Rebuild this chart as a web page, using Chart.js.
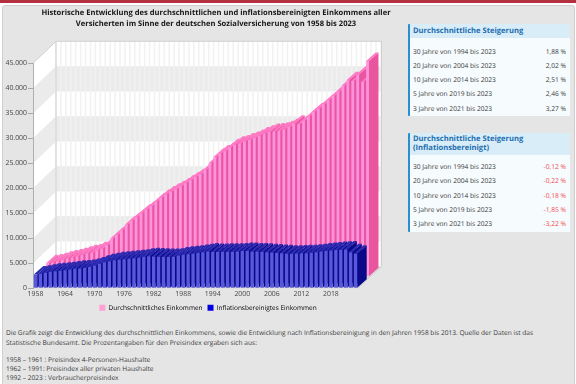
<!DOCTYPE html>
<html lang="de">
<head>
<meta charset="utf-8">
<title>Einkommen 1958 bis 2023</title>
<script src="https://cdn.jsdelivr.net/npm/chart.js@4"></script>
<style>
	html, body { margin: 0; padding: 0; background: #fff; }
	body { width: 576px; height: 384px; position: relative; overflow: hidden; font-family: "Open Sans", sans-serif; color: #333; text-rendering: geometricPrecision; }
	#topbar { position: absolute; left: 0; top: 0; width: 576px; height: 3px; background: #b5303f; }
	#panel { position: absolute; left: 2px; top: 5px; width: 571px; height: 385px; background: #e5e5e5; border: 1px solid #cfcfcf; border-radius: 3px; }
	#myChart { position: absolute; left: 0; top: 0; }
	.card { position: absolute; left: 408px; width: 160px; background: #f6fbfe; border-left: 2px solid #2a8fd0; border-radius: 1px; }
	.card h3 { margin: 0; padding: 0 0 0 3px; background: #d9edf8; color: #1c6db0; font-size: 7.6px; font-weight: 700; line-height: 9px; }
	.row { position: absolute; left: 3px; right: 4px; height: 10px; line-height: 10px; font-size: 6.65px; color: #3a3a3a; }
	.row b { position: absolute; right: 0; font-weight: 400; }
	.row b.neg { color: #f4484c; }
	.txt { position: absolute; left: 6px; font-size: 6.6px; line-height: 9px; white-space: nowrap; color: #3a3a3a; }
</style>
</head>
<body>
<div id="topbar"></div>
<div id="panel"></div>
<canvas id="myChart" width="432" height="326"></canvas>

<div class="card" id="card1" style="top:24px;height:92px"><h3 style="padding-top:3px;padding-bottom:2px">Durchschnittliche Steigerung</h3></div>
<div class="card" id="card2" style="top:133px;height:99px"><h3 style="padding-top:2px;padding-bottom:2px">Durchschnittliche Steigerung<br>(Inflationsbereinigt)</h3></div>

<div class="txt" style="top:327.5px">Die Grafik zeigt die Entwicklung des durchschnittlichen Einkommens, sowie die Entwicklung nach Inflationsbereinigung in den Jahren 1958 bis 2013. Quelle der Daten ist das</div>
<div class="txt" style="top:337.5px">Statistische Bundesamt. Die Prozentangaben für den Preisindex ergaben sich aus:</div>
<div class="txt" style="top:355px">1958 – 1961 : Preisindex 4-Personen-Haushalte</div>
<div class="txt" style="top:364px">1962 – 1991: Preisindex aller privaten Haushalte</div>
<div class="txt" style="top:373px">1992 – 2023 : Verbraucherpreisindex</div>

<script>
const years = [
	1958,1959,1960,1961,1962,1963,1964,1965,1966,1967,1968,
	1969,1970,1971,1972,1973,1974,1975,1976,1977,1978,1979,
	1980,1981,1982,1983,1984,1985,1986,1987,1988,1989,1990,
	1991,1992,1993,1994,1995,1996,1997,1998,1999,2000,2001,
	2002,2003,2004,2005,2006,2007,2008,2009,2010,2011,2012,
	2013,2014,2015,2016,2017,2018,2019,2020,2021,2022,2023
];

const durchschnitt = [
	2700,2850,3100,3400,3650,3850,4100,4400,4700,4850,5300,
	5600,6300,7600,8350,9350,10400,11150,11900,12750,13400,14150,
	15050,15800,16450,17000,17500,18050,18700,19300,19900,20500,21450,
	22700,23950,24650,25100,25900,26400,26650,27050,27350,27750,28250,
	28600,28950,29050,29200,29500,29950,30600,30500,31150,32100,33000,
	33650,34500,35350,36200,37100,38200,39300,39150,40450,39000,43150
];

const inflationsbereinigt = [
	2750,2900,3100,3300,3400,3500,3600,3750,3900,3950,4050,
	4250,4550,4900,5200,5400,5600,5700,5800,5900,6000,6100,
	6300,6400,6350,6300,6250,6250,6300,6550,6700,6800,6900,
	7050,7200,7350,7250,7250,7300,7300,7300,7350,7450,7450,
	7350,7350,7300,7200,7150,7050,7000,6900,6900,6950,7000,
	7000,7100,7200,7350,7450,7550,7650,7700,7750,7200,6900
];

const yTicks = [0,5000,10000,15000,20000,25000,30000,35000,40000,45000];

const steigerungLabels = [
	"30 Jahre von 1994 bis 2023",
	"20 Jahre von 2004 bis 2023",
	"10 Jahre von 2014 bis 2023",
	"5 Jahre von 2019 bis 2023",
	"3 Jahre von 2021 bis 2023"
];
const steigerung = ["1,88 %","2,02 %","2,51 %","2,46 %","3,27 %"];
const steigerungInfl = ["-0,12 %","-0,22 %","-0,18 %","-1,85 %","-3,22 %"];

function fillCard(id, values, firstRow, neg){
	let card = document.getElementById(id);
	values.forEach((v,i) => {
		let row = document.createElement("div");
		row.className = "row";
		row.style.top = (firstRow + i*14.25) + "px";
		row.innerHTML = steigerungLabels[i] + '<b class="' + (neg ? "neg" : "") + '">' + v + '</b>';
		card.appendChild(row);
	});
}
fillCard("card1", steigerung, 22.5, false);
fillCard("card2", steigerungInfl, 29, true);

//depth of the 3d box and of one bar row
const wallDx = 23, wallDy = 22;
const barDx = 9.5, barDy = 8.5;

//colours for the sides, changed per dataset in beforeDatasetDraw
let faces = null;

const orgDraw = Chart.BarElement.prototype.draw;
Chart.BarElement.prototype.draw = function(ctx, area){
	const {x, y, base, width} = this.getProps(["x","y","base","width"], true);
	const l = x - width/2, r = x + width/2;
	ctx.save();
	ctx.fillStyle = faces.side;
	ctx.beginPath();
	ctx.moveTo(r, y);
	ctx.lineTo(r + barDx, y - barDy);
	ctx.lineTo(r + barDx, base - barDy);
	ctx.lineTo(r, base);
	ctx.closePath();
	ctx.fill();
	ctx.fillStyle = faces.top;
	ctx.beginPath();
	ctx.moveTo(l, y);
	ctx.lineTo(l + barDx, y - barDy);
	ctx.lineTo(r + barDx, y - barDy);
	ctx.lineTo(r, y);
	ctx.closePath();
	ctx.fill();
	ctx.restore();
	orgDraw.call(this, ctx, area);
};

const box3d = {
	id: "box3d",
	beforeDraw(chart){
		const ctx = chart.ctx, xs = chart.scales.x, ys = chart.scales.y;
		const left = xs.left, right = xs.right;
		const bottom = ys.getPixelForValue(0), top = ys.getPixelForValue(yTicks[yTicks.length-1]);
		ctx.textRendering = "geometricPrecision";
		ctx.save();
		//floor
		ctx.fillStyle = "#dadada";
		ctx.beginPath();
		ctx.moveTo(left, bottom);
		ctx.lineTo(right, bottom);
		ctx.lineTo(right + wallDx, bottom - wallDy);
		ctx.lineTo(left + wallDx, bottom - wallDy);
		ctx.closePath();
		ctx.fill();
		//bands on side wall and back wall
		for(let i=0;i<yTicks.length-1;i++){
			let y0 = ys.getPixelForValue(yTicks[i]), y1 = ys.getPixelForValue(yTicks[i+1]);
			ctx.fillStyle = i%2==0 ? "#ffffff" : "#ebebeb";
			ctx.fillRect(left + wallDx, y1 - wallDy, right - left, y0 - y1);
			ctx.beginPath();
			ctx.moveTo(left, y0);
			ctx.lineTo(left + wallDx, y0 - wallDy);
			ctx.lineTo(left + wallDx, y1 - wallDy);
			ctx.lineTo(left, y1);
			ctx.closePath();
			ctx.fill();
		}
		//vertical lines on back wall
		ctx.strokeStyle = "#f1f1f1";
		ctx.lineWidth = 1.5;
		ctx.beginPath();
		for(let i=0;i<=years.length;i++){
			let px = left + wallDx + (right-left)*i/years.length;
			ctx.moveTo(px, top - wallDy);
			ctx.lineTo(px, bottom - wallDy);
		}
		ctx.stroke();
		//edges
		ctx.strokeStyle = "#cfcfcf";
		ctx.lineWidth = 1;
		ctx.beginPath();
		ctx.moveTo(left, top);
		ctx.lineTo(left + wallDx, top - wallDy);
		ctx.lineTo(right + wallDx + 0.5, top - wallDy);
		ctx.lineTo(right + wallDx + 0.5, bottom - wallDy);
		ctx.lineTo(right, bottom);
		ctx.moveTo(left + wallDx, top - wallDy);
		ctx.lineTo(left + wallDx, bottom - wallDy);
		ctx.stroke();
		ctx.restore();
	},
	beforeDatasetDraw(chart, args){
		const ds = chart.data.datasets[args.index];
		faces = ds.faces;
		chart.ctx.save();
		chart.ctx.translate(ds.rowDx, ds.rowDy);
	},
	afterDatasetDraw(chart){
		chart.ctx.restore();
	},
	afterLayout(chart){
		//title and legend are centred over the box, not the canvas padding
		chart.titleBlock.left = 0;
		chart.titleBlock.right = 432;
		chart.legend.left += 29;
		chart.legend.right += 29;
		chart.legend.top -= 1;
		chart.legend.bottom -= 1;
	}
};

const myChart = document.getElementById("myChart");

let barChart = new Chart(myChart, {
	type: "bar",
	plugins: [box3d],
	data: {
		labels: years,
		datasets: [
			{
				label: "Inflationsbereinigtes Einkommen",
				data: inflationsbereinigt,
				backgroundColor: "#5858dc",
				faces: {side: "#0a0a88", top: "#2c2cb4"},
				rowDx: 0, rowDy: 0,
				legendColor: "#0000dc",
				barPercentage: 0.68,
				grouped: false, clip: false, order: 1
			},
			{
				label: "Durchschnittliches Einkommen",
				data: durchschnitt,
				backgroundColor: "#ff92dc",
				faces: {side: "#e9559f", top: "#ff78c4"},
				rowDx: 12, rowDy: -11.5,
				legendColor: "#ff9fd2",
				barPercentage: 0.58,
				grouped: false, clip: false, order: 2
			}
		]
	},
	options: {
		responsive: false,
		animation: false,
		events: [],
		categoryPercentage: 1,
		layout: { padding: { left: 0, right: 74, top: 7, bottom: 4 } },
		font: { family: "'Open Sans'" },
		scales: {
			x: {
				grid: { display: false, drawTicks: false },
				border: { display: false },
				ticks: {
					autoSkip: false, maxRotation: 0, padding: 2,
					color: "#444", font: { family: "'Open Sans'", size: 6.9 },
					callback: (v,i) => i%6==0 ? years[i] : ""
				}
			},
			y: {
				min: 0, max: 45000,
				afterFit: s => { s.width = 33 },
				grid: { drawOnChartArea: false, color: "#a8a8a8", tickLength: 5 },
				border: { color: "#b0b0b0" },
				ticks: {
					stepSize: 5000, padding: 1,
					color: "#444", font: { family: "'Open Sans'", size: 6.9 },
					callback: v => v.toLocaleString("de-DE")
				}
			}
		},
		plugins: {
			title: {
				display: true,
				text: ["Historische Entwicklung des durchschnittlichen und inflationsbereinigten Einkommens aller",
					"Versicherten im Sinne der deutschen Sozialversicherung von 1958 bis 2023"],
				color: "#161616",
				font: { family: "'Open Sans'", size: 7.6, weight: "bold", lineHeight: 1.4 },
				padding: { top: 1, bottom: 34 }
			},
			legend: {
				position: "bottom",
				labels: {
					boxWidth: 6, boxHeight: 6, padding: 5, color: "#444",
					font: { family: "'Open Sans'", size: 6.5 },
					generateLabels: chart => [1,0].map(i => ({
						text: chart.data.datasets[i].label,
						fillStyle: chart.data.datasets[i].legendColor,
						strokeStyle: chart.data.datasets[i].legendColor,
						lineWidth: 0,
						datasetIndex: i
					}))
				}
			},
			tooltip: { enabled: false }
		}
	}
});
</script>
</body>
</html>
